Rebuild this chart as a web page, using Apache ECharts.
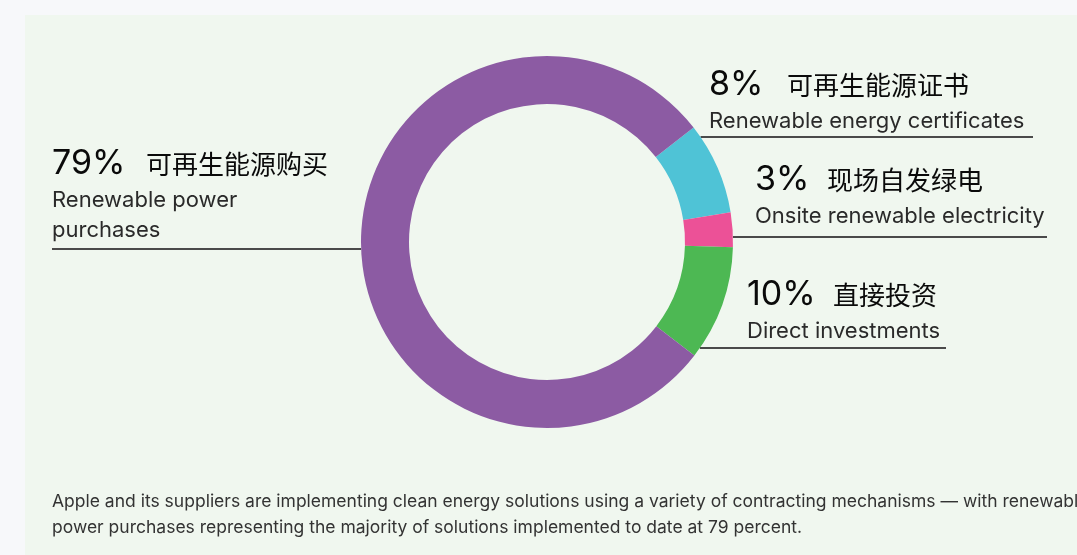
<!DOCTYPE html>
<html>
<head>
<meta charset="utf-8">
<script src="https://cdn.jsdelivr.net/npm/echarts@6/dist/echarts.min.js"></script>
<style>
  html, body { margin: 0; padding: 0; background: #f7f8fa; }
  #chart { width: 1077px; height: 555px; }
</style>
</head>
<body>
<div id="chart"></div>
<script>
// Share of clean energy solutions by contracting mechanism (percent)
const keys = ['certificates', 'onsite', 'direct', 'purchases'];
const values = [8, 3, 10, 79];
const namesZh = ['可再生能源证书', '现场自发绿电', '直接投资', '可再生能源购买'];
const namesEn = [
  ['Renewable energy certificates'],
  ['Onsite renewable electricity'],
  ['Direct investments'],
  ['Renewable power', 'purchases']
];
const colors = ['#4fc3d6', '#ec5197', '#4db853', '#8c5ba3'];
const footnote = [
  'Apple and its suppliers are implementing clean energy solutions using a variety of contracting mechanisms \u2014 with renewable',
  'power purchases representing the majority of solutions implemented to date at 79 percent.'
];

// Donut geometry
const CX = 547, CY = 242, R_IN = 138, R_OUT = 186;

// Label block layout: left x, baseline of headline, x of Chinese name,
// y of leader line, side of the ring the line touches, line end x
const layout = {
  certificates: { x: 709, base: 95, zhX: 787, lineY: 137, side: 1, lineEnd: 1033 },
  onsite:       { x: 755, base: 190, zhX: 827, lineY: 237, side: 1, lineEnd: 1047 },
  direct:       { x: 747, base: 305, zhX: 833, lineY: 348, side: 1, lineEnd: 946 },
  purchases:    { x: 52,  base: 174, zhX: 146, lineY: 249, side: -1, lineEnd: 52 }
};

const FONT = 'Inter, "Noto Sans", sans-serif';
const ZH_FONT = '"Noto Sans CJK SC", sans-serif';

const graphics = [
  { type: 'rect', silent: true, z: -10,
    shape: { x: 25, y: 15, width: 1077 - 25, height: 555 - 15 },
    style: { fill: '#f0f7ef' } }
];

keys.forEach((k, i) => {
  const L = layout[k];
  graphics.push({
    type: 'text', x: L.x, y: L.base - 10,
    style: { text: values[i] + '%', font: '400 34px ' + FONT, fill: '#0a0a0a',
             verticalAlign: 'middle', align: 'left' }
  });
  graphics.push({
    type: 'text', x: L.zhX, y: L.base - 10,
    style: { text: namesZh[i], font: '400 26px ' + ZH_FONT, fill: '#0a0a0a',
             verticalAlign: 'middle', align: 'left' }
  });
  namesEn[i].forEach((line, j) => {
    graphics.push({
      type: 'text', x: L.x, y: L.base + 32 + j * 30 - 6,
      style: { text: line, font: '400 22px ' + FONT, fill: '#2a2a2a',
               verticalAlign: 'middle', align: 'left' }
    });
  });
  // leader line from the ring's outer edge to the label's far end
  const dy = L.lineY - CY;
  const edgeX = CX + L.side * Math.sqrt(R_OUT * R_OUT - dy * dy);
  graphics.push({
    type: 'line', silent: true,
    shape: { x1: edgeX, y1: L.lineY, x2: L.lineEnd, y2: L.lineY },
    style: { stroke: '#4a4a4a', lineWidth: 2 }
  });
});

footnote.forEach((line, j) => {
  graphics.push({
    type: 'text', x: 52, y: 502 + j * 26,
    style: { text: line, font: '400 17.5px ' + FONT, fill: '#333',
             verticalAlign: 'middle', align: 'left' }
  });
});

const chart = echarts.init(document.getElementById('chart'), null, { renderer: 'canvas' });
chart.setOption({
  backgroundColor: '#f7f8fa',
  animation: false,
  graphic: graphics,
  series: [{
    type: 'pie',
    silent: true,
    center: [CX, CY],
    radius: [R_IN, R_OUT],
    startAngle: 38,
    clockwise: true,
    label: { show: false },
    labelLine: { show: false },
    itemStyle: { borderWidth: 0 },
    data: keys.map((k, i) => ({ name: k, value: values[i], itemStyle: { color: colors[i] } }))
  }]
});
</script>
</body>
</html>
